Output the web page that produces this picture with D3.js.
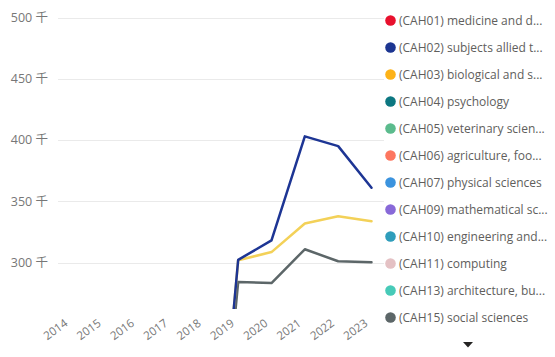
<!DOCTYPE html>
<html><head><meta charset="utf-8">
<script src="https://cdn.jsdelivr.net/npm/d3@7"></script>
<style>
html,body{margin:0;padding:0;background:#fff;}
svg{display:block;font-family:"Open Sans","Noto Sans CJK SC",sans-serif;}
</style></head>
<body>
<svg id="chart" width="555" height="357"></svg>
<script>
const years = ["2014","2015","2016","2017","2018","2019","2020","2021","2022","2023"];
const yTicks = [300, 350, 400, 450, 500];
const tickSuffix = " 千";
const seriesNames = ["(CAH02) subjects allied t...", "(CAH03) biological and s...", "(CAH15) social sciences"];
const cah02 = [0, 0, 0, 0, 0, 302.2, 318, 403, 395, 361];
const cah03 = [0, 0, 0, 0, 0, 301.8, 308.5, 331.8, 337.7, 333.6];
const cah15 = [0, 0, 0, 0, 0, 284, 283.2, 310.8, 301, 300.2];
const lineColors = ["#1d3594", "#f3d158", "#5c6668"];
const legendLabels = [
  "(CAH01) medicine and d...",
  "(CAH02) subjects allied t...",
  "(CAH03) biological and s...",
  "(CAH04) psychology",
  "(CAH05) veterinary scien...",
  "(CAH06) agriculture, foo...",
  "(CAH07) physical sciences",
  "(CAH09) mathematical sc...",
  "(CAH10) engineering and...",
  "(CAH11) computing",
  "(CAH13) architecture, bu...",
  "(CAH15) social sciences"
];
const legendColors = ["#e8102d","#1c3591","#fdb217","#0c7781","#5bbb8d","#fd765f","#3b93de","#8869d8","#2f9dbb","#e4c1c4","#47cab8","#5c6668"];

const svg = d3.select("#chart");
const x = d3.scalePoint().domain(years).range([71.5, 371.5]);
const y = d3.scaleLinear().domain([300, 500]).range([262.5, 17.5]);
const plotLeft = 58, plotRight = 384, plotTop = 5, plotBottom = 309;

// gridlines
svg.append("g").selectAll("line").data(yTicks).join("line")
  .attr("x1", plotLeft).attr("x2", plotRight)
  .attr("y1", d => Math.round(y(d)) + 0.5).attr("y2", d => Math.round(y(d)) + 0.5)
  .attr("stroke", "#eaeaea").attr("stroke-width", 1);

// y labels
svg.append("g").selectAll("text").data(yTicks).join("text")
  .attr("x", 48).attr("y", d => y(d)).attr("dy", "0.35em")
  .attr("text-anchor", "end").attr("fill", "#777").attr("font-size", 12.5)
  .text(d => d + tickSuffix);

// x labels
svg.append("g").selectAll("text").data(years).join("text")
  .attr("transform", d => `translate(${x(d) - 3},${325}) rotate(-36)`)
  .attr("text-anchor", "end").attr("fill", "#777").attr("font-size", 11.5)
  .text(d => d);

// clip
svg.append("clipPath").attr("id", "clip").append("rect")
  .attr("x", plotLeft).attr("y", plotTop).attr("width", plotRight - plotLeft).attr("height", plotBottom - plotTop);

const line = d3.line().x((d, i) => x(years[i])).y(d => y(d));
const seriesData = [cah02, cah03, cah15];
// draw gray first, then yellow, then blue
const order = [2, 1, 0];
svg.append("g").attr("clip-path", "url(#clip)").selectAll("path").data(order).join("path")
  .attr("d", i => line(seriesData[i]))
  .attr("fill", "none").attr("stroke", i => lineColors[i])
  .attr("stroke-width", 2.5).attr("stroke-linejoin", "round").attr("stroke-linecap", "round");

// legend
const lg = svg.append("g").selectAll("g").data(legendLabels).join("g")
  .attr("transform", (d, i) => `translate(0,${20.5 + i * 27})`);
lg.append("rect").attr("x", 384).attr("y", -12).attr("width", 171).attr("height", 24).attr("fill", "#fff");
lg.append("circle").attr("cx", 390.5).attr("cy", 0).attr("r", 5.3).attr("fill", (d, i) => legendColors[i]);
lg.append("text").attr("x", 399).attr("y", 0).attr("dy", "0.35em")
  .attr("fill", "#605e5c").attr("font-size", 12).text(d => d);

// scroll arrow
svg.append("path").attr("d", d3.line()([[463, 342], [473, 342], [468, 347.5]]) + "Z").attr("fill", "#252423");
</script>
</body></html>
